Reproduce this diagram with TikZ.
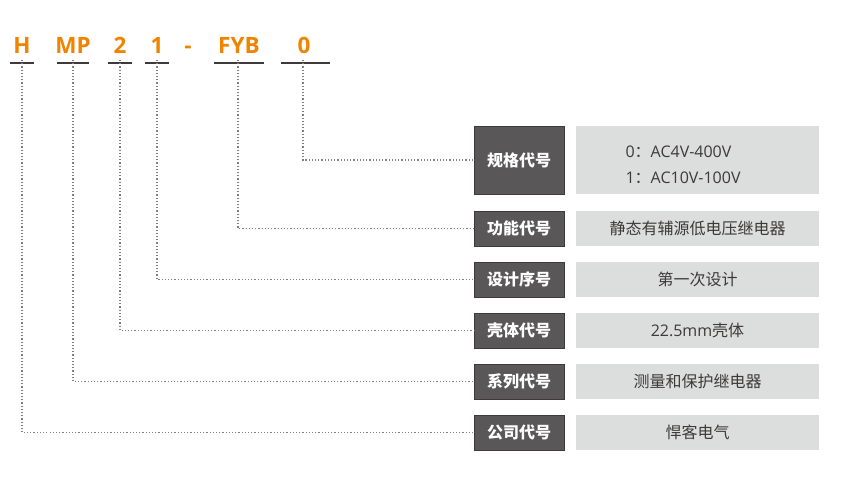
\documentclass[tikz,border=0pt]{standalone}
\usepackage{fontspec}
\usepackage{xcolor}
\setmainfont{Noto Sans CJK SC}
\newfontfamily\codefont{Open Sans}
\definecolor{hmorange}{HTML}{F08300}
\definecolor{hmdark}{HTML}{595757}
\definecolor{hmline}{HTML}{3E3A39}
\definecolor{hmgray}{HTML}{DCDDDD}
\definecolor{hmdot}{HTML}{808080}

\begin{document}
\begin{tikzpicture}[x=1pt, y=-1pt,
  code/.style={font=\codefont\bfseries\fontsize{22.5}{22.5}\selectfont, text=hmorange, anchor=base},
  uline/.style={hmline, line width=2.6pt},
  dots/.style={hmdot, line width=1.2pt, dash pattern=on 1.2pt off 2pt},
  namebox/.style={fill=hmdark, draw=hmline, line width=0.8pt, minimum width=90pt, text=white,
    font=\bfseries\fontsize{16}{18}\selectfont, inner sep=0pt},
  infobox/.style={fill=hmgray, minimum width=243pt, text=hmline,
    font=\fontsize{16}{26}\selectfont, inner sep=0pt}]
\useasboundingbox (0,0) rectangle (856,490);
% code letters
\node[code] (cH) at (22,53) {H};
\node[code] (cMP) at (73,53) {MP};
\node[code] (c2) at (120,53) {2};
\node[code] (c1) at (157,53) {1};
\node[code] (cdash) at (188,53) {-};
\node[code] (cFYB) at (239,53) {FYB};
\node[code] (c0) at (304,53) {0};
% underlines
\coordinate (uH) at (22,63);
\coordinate (uMP) at (73,63);
\coordinate (u2) at (120,63);
\coordinate (u1) at (157,63);
\coordinate (uFYB) at (238,63);
\coordinate (u0) at (303,63);
\draw[uline] (10,63) -- (34,63);
\draw[uline] (57,63) -- (89,63);
\draw[uline] (108,63) -- (132,63);
\draw[uline] (145,63) -- (169,63);
\draw[uline] (214,63) -- (264,63);
\draw[uline] (281,63) -- (330,63);
% name boxes
\node[namebox, minimum height=68pt] (nSpec) at (519,160) {规格代号};
\node[namebox, minimum height=35pt] (nFunc) at (519,228.5) {功能代号};
\node[namebox, minimum height=35pt] (nDesign) at (519,279.5) {设计序号};
\node[namebox, minimum height=35pt] (nShell) at (519,330.5) {壳体代号};
\node[namebox, minimum height=35pt] (nSeries) at (519,381.5) {系列代号};
\node[namebox, minimum height=35pt] (nCompany) at (519,432.5) {公司代号};
% info boxes
\node[infobox, minimum height=68pt] (iSpec) at (697.5,160) {};
\node[anchor=west, align=left, text=hmline, font=\fontsize{16}{26}\selectfont] (tSpec) at (622,165)
  {{\codefont 0}：{\codefont AC4V-400V}\\{\codefont 1}：{\codefont AC10V-100V}};
\node[infobox, minimum height=35pt] (iFunc) at (697.5,228.5) {静态有辅源低电压继电器};
\node[infobox, minimum height=35pt] (iDesign) at (697.5,279.5) {第一次设计};
\node[infobox, minimum height=35pt] (iShell) at (697.5,330.5) {{\codefont 22.5mm}壳体};
\node[infobox, minimum height=35pt] (iSeries) at (697.5,381.5) {测量和保护继电器};
\node[infobox, minimum height=35pt] (iCompany) at (697.5,432.5) {悍客电气};
% dotted leaders
\draw[dots] ([yshift=3pt]u0) |- (nSpec.west);
\draw[dots] ([yshift=3pt]uFYB) |- (nFunc.west);
\draw[dots] ([yshift=3pt]u1) |- (nDesign.west);
\draw[dots] ([yshift=3pt]u2) |- (nShell.west);
\draw[dots] ([yshift=3pt]uMP) |- (nSeries.west);
\draw[dots] ([yshift=3pt]uH) |- (nCompany.west);
\end{tikzpicture}
\end{document}
